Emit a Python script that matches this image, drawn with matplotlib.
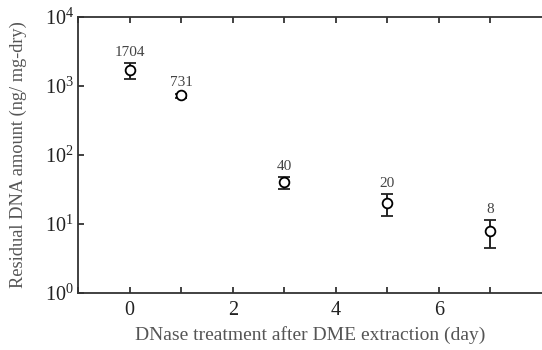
import matplotlib
matplotlib.use("Agg")
import matplotlib.pyplot as plt

days = [0, 1, 3, 5, 7]
dna = [1704, 731, 40, 20, 8]
err = [430, 50, 8, 7, 3.5]
labels = ["1704", "731", "40", "20", "8"]

plt.rcParams['font.family'] = ['Liberation Serif', 'DejaVu Serif']
plt.rcParams['mathtext.fontset'] = 'custom'
plt.rcParams['mathtext.rm'] = 'Liberation Serif'

fig = plt.figure(figsize=(5.42, 3.5), dpi=100)
ax = fig.add_axes([0.144, 0.163, 0.856, 0.788])

ax.errorbar(days, dna, yerr=err, fmt='o', mfc='white', mec='black', mew=1.3,
            ms=7, ecolor='#222222', elinewidth=1.4, capsize=4, capthick=1.4)

for d, v, e, lab in zip(days, dna, err, labels):
    ax.annotate(lab, (d, v + e), xytext=(0, 3), textcoords='offset points',
                ha='center', va='bottom', fontsize=11, color='#444444')

ax.set_yscale('log')
ax.set_ylim(1, 1e4)
ax.set_xlim(-1, 8)
ax.set_xticks(range(-1, 8))
ax.set_xticklabels(['' if t % 2 or t < 0 else str(t) for t in range(-1, 8)])
ax.set_yticks([1, 10, 100, 1000, 10000])
ax.set_yticklabels(['$\\mathregular{10^{%d}}$' % k for k in range(5)])
ax.yaxis.set_minor_locator(matplotlib.ticker.NullLocator())

ax.spines['right'].set_visible(False)
for s in ['left', 'bottom', 'top']:
    ax.spines[s].set_linewidth(1.3)
    ax.spines[s].set_color('#333333')
ax.tick_params(direction='in', top=True, length=4, width=1.3, color='#333333',
               labelsize=14.5, labelcolor='#222222', pad=6)
ax.tick_params(axis='y', pad=3)

ax.set_xlabel('DNase treatment after DME extraction (day)', fontsize=14, color='#555555', labelpad=4)
ax.set_ylabel('Residual DNA amount (ng/ mg-dry)', fontsize=13.2, color='#555555', labelpad=13)

fig.savefig('out.png', dpi=100)
